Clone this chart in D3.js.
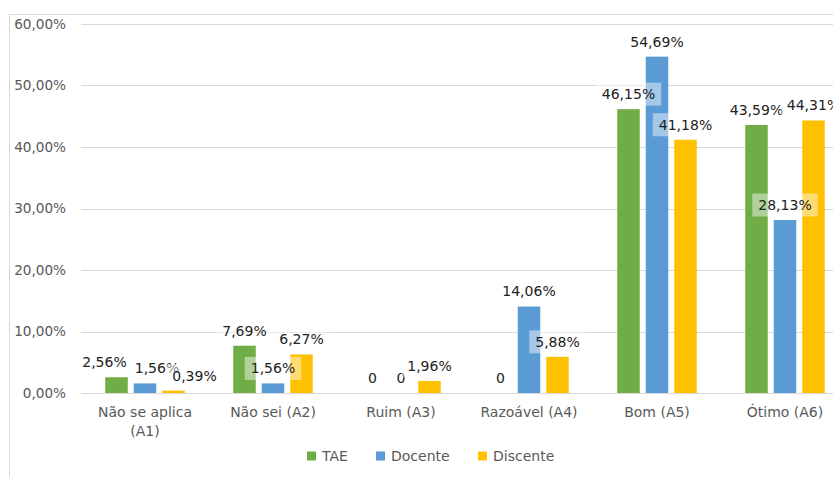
<!DOCTYPE html>
<html><head><meta charset="utf-8">
<script src="https://cdn.jsdelivr.net/npm/d3@7"></script>
<style>body{margin:0;background:#fff;overflow:hidden}svg{display:block}text{font-family:"DejaVu Sans",Verdana,sans-serif}</style>
</head><body><svg id="c" width="833" height="477"></svg>
<script>
const categories = ["Não se aplica (A1)", "Não sei (A2)", "Ruim (A3)", "Razoável (A4)", "Bom (A5)", "Ótimo (A6)"];
const categoryLines = [["Não se aplica", "(A1)"], ["Não sei (A2)"], ["Ruim (A3)"], ["Razoável (A4)"], ["Bom (A5)"], ["Ótimo (A6)"]];
const seriesNames = ["TAE", "Docente", "Discente"];
const tae = [2.56, 7.69, 0, 0, 46.15, 43.59];
const docente = [1.56, 1.56, 0, 14.06, 54.69, 28.13];
const discente = [0.39, 6.27, 1.96, 5.88, 41.18, 44.31];
const yTicks = [0, 10, 20, 30, 40, 50, 60];
const colors = ["#70AD47", "#5B9BD5", "#FFC000"];
// label horizontal nudges (Excel moved the A1 labels to avoid overlap)
const labelDx = [[-12, 12, 21], [0, 0, 0], [0, 0, 0], [0, 0, 0], [0, 0, 0], [0, 0, 0]];

const fmt = v => v === 0 ? "0" : v.toFixed(2).replace(".", ",") + "%";
const svg = d3.select("#c");
const series = [tae, docente, discente];

// outer border
svg.append("rect").attr("x", 9.5).attr("y", 14.5).attr("width", 900).attr("height", 500)
  .attr("fill", "none").attr("stroke", "#D9D9D9");

const x0 = d3.scaleBand().domain(categories).range([81, 849]).paddingInner(0).paddingOuter(0);
const y = d3.scaleLinear().domain([0, 60]).range([393, 24]);
const step = 28.5, bw = 22.5;

// gridlines
svg.append("g").selectAll("line").data(yTicks).join("line")
  .attr("x1", 81).attr("x2", 849).attr("y1", d => Math.round(y(d)) + 0.5).attr("y2", d => Math.round(y(d)) + 0.5)
  .attr("stroke", "#D9D9D9").attr("stroke-width", 1);

// y tick labels
svg.append("g").selectAll("text").data(yTicks).join("text")
  .attr("x", 66).attr("y", d => y(d)).attr("dy", "0.35em").attr("text-anchor", "end")
  .attr("font-size", 13.6).attr("fill", "#595959").text(d => d.toFixed(2).replace(".", ",") + "%");

// bars
const cx = (i, s) => x0(categories[i]) + x0.bandwidth() / 2 + (s - 1) * step;
series.forEach((vals, s) => {
  svg.append("g").selectAll("rect").data(vals).join("rect")
    .attr("x", (d, i) => cx(i, s) - bw / 2).attr("width", bw)
    .attr("y", d => y(d)).attr("height", d => y(0) - y(d))
    .attr("fill", colors[s]);
});

// data labels
const lg = svg.append("g");
series.forEach((vals, s) => {
  vals.forEach((v, i) => {
    const tx = cx(i, s) + labelDx[i][s];
    const ty = y(v) - 15;
    const t = lg.append("text").attr("x", tx).attr("y", ty).attr("dy", "0.35em")
      .attr("text-anchor", "middle").attr("font-size", 14).attr("fill", "#222").text(fmt(v));
    const w = t.node().getComputedTextLength();
    lg.insert("rect", function(){ return t.node(); })
      .attr("x", tx - w / 2 - 6).attr("y", ty - 11.5).attr("width", w + 12).attr("height", 23)
      .attr("fill", "#fff").attr("fill-opacity", 0.45);
  });
});

// x labels
categoryLines.forEach((lines, i) => {
  const t = svg.append("text").attr("text-anchor", "middle").attr("font-size", 14).attr("fill", "#595959");
  lines.forEach((ln, k) => t.append("tspan").attr("x", x0(categories[i]) + x0.bandwidth() / 2).attr("y", 412 + k * 19).attr("dy", "0.35em").text(ln));
});

// legend
const legX = [307, 376, 478];
seriesNames.forEach((n, s) => {
  svg.append("rect").attr("x", legX[s]).attr("y", 451.5).attr("width", 9).attr("height", 9).attr("fill", colors[s]);
  svg.append("text").attr("x", legX[s] + 15).attr("y", 456).attr("dy", "0.35em").attr("font-size", 14).attr("fill", "#595959").text(n);
});
</script></body></html>
